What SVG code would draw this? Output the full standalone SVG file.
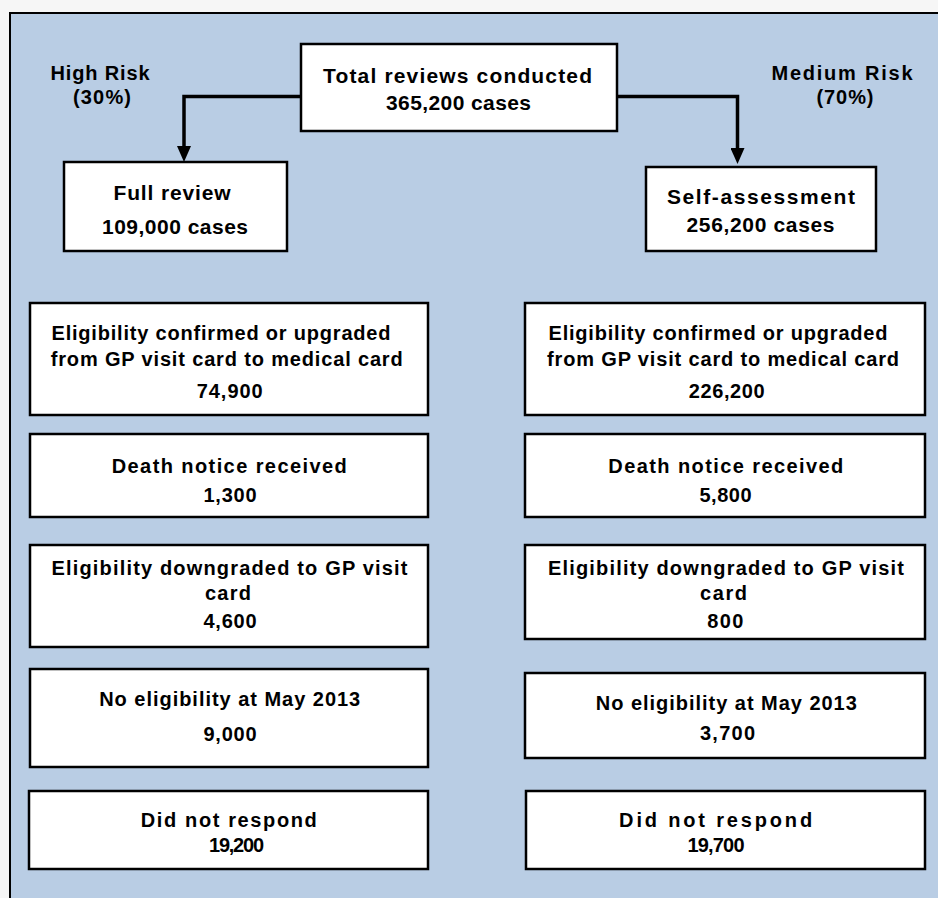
<svg xmlns="http://www.w3.org/2000/svg" width="938" height="898" viewBox="0 0 938 898">
<style>
.box{fill:#ffffff;stroke:#000000;stroke-width:2.5}
.t{font-family:"Liberation Sans",Arial,sans-serif;font-weight:bold;font-size:20px;fill:#000000;text-anchor:middle}
.tl{font-size:21px}
.lab{font-size:20px}
.conn{fill:none;stroke:#000000;stroke-width:3.5}
</style>
<defs>
<marker id="arr" markerUnits="userSpaceOnUse" markerWidth="16" markerHeight="14" viewBox="0 0 16 14" refX="1" refY="7" orient="auto">
<path d="M0,0 L16,7 L0,14 z" fill="#000000"/>
</marker>
</defs>
<rect x="0" y="0" width="938" height="898" fill="#f6f6f6"/>
<rect x="10" y="13" width="940" height="900" fill="#b9cde4" stroke="#000000" stroke-width="2"/>

<g id="connectors">
<path class="conn" d="M301,96.5 H184 V147" marker-end="url(#arr)"/>
<path class="conn" d="M617,96.5 H737.5 V149" marker-end="url(#arr)"/>
</g>

<g id="label-high">
<text class="t lab" x="100" y="80" textLength="99" lengthAdjust="spacing">High Risk</text>
<text class="t lab" x="102" y="104" textLength="58" lengthAdjust="spacing">(30%)</text>
</g>
<g id="label-medium">
<text class="t lab" x="842" y="80" textLength="141" lengthAdjust="spacing">Medium Risk</text>
<text class="t lab" x="845" y="104" textLength="57" lengthAdjust="spacing">(70%)</text>
</g>

<g id="total">
<rect class="box" x="301" y="44" width="316" height="87"/>
<text class="t tl" x="457.5" y="83" textLength="269" lengthAdjust="spacing">Total reviews conducted</text>
<text class="t tl" x="458.5" y="110" textLength="145" lengthAdjust="spacing">365,200 cases</text>
</g>

<g id="full-review">
<rect class="box" x="64" y="162" width="223" height="89"/>
<text class="t tl" x="172" y="200" textLength="117" lengthAdjust="spacing">Full review</text>
<text class="t tl" x="175" y="234" textLength="146" lengthAdjust="spacing">109,000 cases</text>
</g>

<g id="self-assessment">
<rect class="box" x="646" y="167" width="230" height="84"/>
<text class="t tl" x="761" y="204" textLength="188" lengthAdjust="spacing">Self-assessment</text>
<text class="t tl" x="760.5" y="232" textLength="148" lengthAdjust="spacing">256,200 cases</text>
</g>

<g id="hr-confirmed">
<rect class="box" x="30" y="303" width="398" height="112"/>
<text class="t" x="221" y="340" textLength="339" lengthAdjust="spacing">Eligibility confirmed or upgraded</text>
<text class="t" x="226.7" y="366" textLength="352" lengthAdjust="spacing">from GP visit card to medical card</text>
<text class="t" x="229.7" y="397.5" textLength="66" lengthAdjust="spacing">74,900</text>
</g>
<g id="mr-confirmed">
<rect class="box" x="525" y="303" width="400" height="112"/>
<text class="t" x="718" y="340" textLength="339" lengthAdjust="spacing">Eligibility confirmed or upgraded</text>
<text class="t" x="723" y="366" textLength="352" lengthAdjust="spacing">from GP visit card to medical card</text>
<text class="t" x="726.7" y="397.5" textLength="76" lengthAdjust="spacing">226,200</text>
</g>

<g id="hr-death">
<rect class="box" x="30" y="434" width="398" height="83"/>
<text class="t" x="229.2" y="472.5" textLength="235" lengthAdjust="spacing">Death notice received</text>
<text class="t" x="230" y="501.5" textLength="53" lengthAdjust="spacing">1,300</text>
</g>
<g id="mr-death">
<rect class="box" x="525" y="434" width="400" height="83"/>
<text class="t" x="725.8" y="472.5" textLength="235" lengthAdjust="spacing">Death notice received</text>
<text class="t" x="725.5" y="501.5" textLength="52" lengthAdjust="spacing">5,800</text>
</g>

<g id="hr-downgraded">
<rect class="box" x="30" y="545" width="398" height="102"/>
<text class="t" x="229.5" y="574.5" textLength="356" lengthAdjust="spacing">Eligibility downgraded to GP visit</text>
<text class="t" x="228" y="600" textLength="46" lengthAdjust="spacing">card</text>
<text class="t" x="230" y="627.5" textLength="53" lengthAdjust="spacing">4,600</text>
</g>
<g id="mr-downgraded">
<rect class="box" x="525" y="545" width="400" height="94"/>
<text class="t" x="726" y="574.5" textLength="356" lengthAdjust="spacing">Eligibility downgraded to GP visit</text>
<text class="t" x="723.5" y="600" textLength="47" lengthAdjust="spacing">card</text>
<text class="t" x="725.3" y="627.5" textLength="36" lengthAdjust="spacing">800</text>
</g>

<g id="hr-noelig">
<rect class="box" x="30" y="669" width="398" height="98"/>
<text class="t" x="229.7" y="705.5" textLength="261" lengthAdjust="spacing">No eligibility at May 2013</text>
<text class="t" x="230" y="741" textLength="53" lengthAdjust="spacing">9,000</text>
</g>
<g id="mr-noelig">
<rect class="box" x="525" y="673" width="400" height="85"/>
<text class="t" x="726.3" y="709.5" textLength="261" lengthAdjust="spacing">No eligibility at May 2013</text>
<text class="t" x="727.5" y="740" textLength="55" lengthAdjust="spacing">3,700</text>
</g>

<g id="hr-noresponse">
<rect class="box" x="29" y="791" width="399" height="78"/>
<text class="t" x="228.8" y="826.5" textLength="176" lengthAdjust="spacing">Did not respond</text>
<text class="t" x="236.5" y="852" textLength="55" lengthAdjust="spacing">19,200</text>
</g>
<g id="mr-noresponse">
<rect class="box" x="526" y="791" width="399" height="78"/>
<text class="t" x="715.6" y="826.5" textLength="193" lengthAdjust="spacing">Did not respond</text>
<text class="t" x="716" y="852" textLength="57" lengthAdjust="spacing">19,700</text>
</g>
</svg>
